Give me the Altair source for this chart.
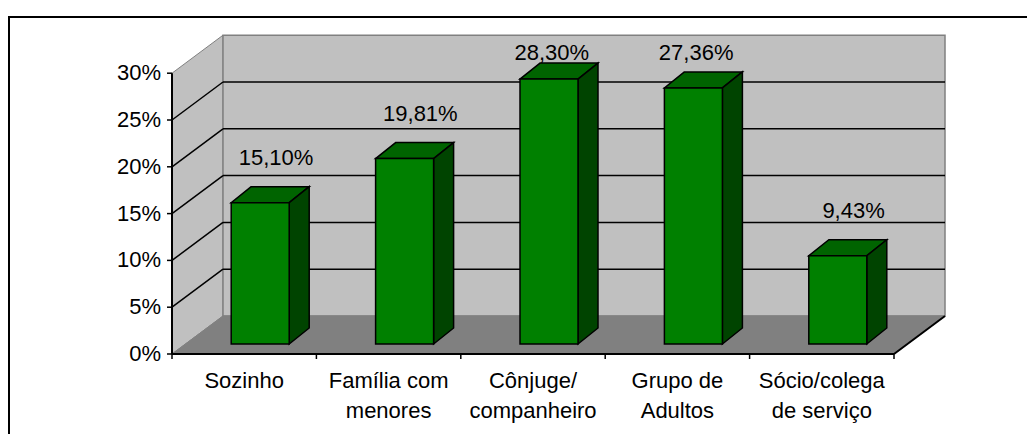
import altair as alt
import pandas as pd

# ---- data ----
categories = ["Sozinho", "Família com\nmenores", "Cônjuge/\ncompanheiro",
              "Grupo de\nAdultos", "Sócio/colega\nde serviço"]
values = [15.10, 19.81, 28.30, 27.36, 9.43]
value_labels = ["15,10%", "19,81%", "28,30%", "27,36%", "9,43%"]
y_ticks = [0, 5, 10, 15, 20, 25, 30]
y_tick_labels = ["0%", "5%", "10%", "15%", "20%", "25%", "30%"]

# ---- geometry (oblique 3D projection in data units) ----
PX_X, PX_Y = 144.4, 9.36          # px per category unit / per percent
W, H = 1019, 426
N = len(categories)
YMAX = 30
DX, DY = 51 / PX_X, 38 / PX_Y     # wall depth
BW = 58 / PX_X                    # bar width
BSHIFT = 16 / PX_X                # bar front centre offset (depth)
BASE = 10 / PX_Y                  # bar base offset (depth)
BDX, BDY = 20 / PX_X, 16 / PX_Y   # bar depth
FONT = "Liberation Sans"
FS = 22

xs = alt.Scale(domain=[-164 / PX_X, (W - 164) / PX_X], nice=False, zero=False)
ys = alt.Scale(domain=[-80 / PX_Y, 346 / PX_Y], nice=False, zero=False)


def X(f):
    return alt.X(f, type="quantitative", scale=xs, axis=None)


def Y(f):
    return alt.Y(f, type="quantitative", scale=ys, axis=None)


# walls
left_wall = pd.DataFrame({"x": [0, DX], "lo": [0, DY], "hi": [YMAX, YMAX + DY]})
back_wall = pd.DataFrame({"x": [DX], "x2": [N + DX], "y": [DY], "y2": [YMAX + DY]})
floor = pd.DataFrame({"y": [0, DY], "x": [0, DX], "x2": [N, N + DX]})

inner = [t for t in y_ticks if 0 < t < YMAX]
grid_back = pd.DataFrame({"y": [t + DY for t in inner], "x": DX, "x2": N + DX})
grid_left = pd.DataFrame({"y": inner, "y2": [t + DY for t in inner], "x": 0.0, "x2": DX})

ticks_df = pd.DataFrame({"y": y_ticks, "label": y_tick_labels, "x": -5 / PX_X, "x2": 0.0, "x0": 0.0})
xticks_df = pd.DataFrame({"x": list(range(N + 1)), "y": 0.0, "y2": -5 / PX_Y})

bars = pd.DataFrame({"i": range(N), "cat": categories, "v": values, "label": value_labels})
bars["xc"] = bars["i"] + 0.5 + BSHIFT
bars["xl"] = bars["xc"] - BW / 2
bars["xr"] = bars["xc"] + BW / 2
bars["y0"] = BASE
bars["y1"] = BASE + bars["v"]
raw = bars["v"] + 5.85
bars["ly"] = raw.clip(upper=32.16)
bars["lx"] = bars["i"] + 0.5 + pd.Series([0.22 if r < 32.16 else 0.13 for r in raw])
bars["cx"] = bars["i"] + 0.5
bars["zero"] = 0.0

side_rows, top_rows = [], []
for _, r in bars.iterrows():
    side_rows.append({"cat": r["cat"], "x": r["xr"], "lo": BASE, "hi": r["y1"]})
    side_rows.append({"cat": r["cat"], "x": r["xr"] + BDX, "lo": BASE + BDY, "hi": r["y1"] + BDY})
    top_rows.append({"cat": r["cat"], "y": r["y1"], "x": r["xl"], "x2": r["xr"]})
    top_rows.append({"cat": r["cat"], "y": r["y1"] + BDY, "x": r["xl"] + BDX, "x2": r["xr"] + BDX})
side = pd.DataFrame(side_rows)
top = pd.DataFrame(top_rows)

edges = pd.DataFrame({
    "x": [N, 0, 0], "x2": [N + DX, N, 0], "y": [0, 0, 0], "y2": [DY, 0, YMAX],
    "w": ["a", "b", "c"],
})

layers = []
layers.append(alt.Chart(left_wall).mark_area(fill="#C0C0C0", stroke="#808080", strokeWidth=1)
              .encode(x=X("x"), y=Y("lo"), y2="hi"))
layers.append(alt.Chart(back_wall).mark_rect(fill="#C0C0C0", stroke="#808080", strokeWidth=1.5)
              .encode(x=X("x"), x2="x2", y=Y("y"), y2="y2"))
layers.append(alt.Chart(floor).mark_area(orient="horizontal", fill="#808080", stroke="#808080", strokeWidth=1)
              .encode(y=Y("y"), x=X("x"), x2="x2"))
layers.append(alt.Chart(grid_back).mark_rule(color="black", strokeWidth=1.5)
              .encode(y=Y("y"), x=X("x"), x2="x2"))
layers.append(alt.Chart(grid_left).mark_rule(color="black", strokeWidth=1.5)
              .encode(x=X("x"), x2="x2", y=Y("y"), y2="y2"))
# floor front-right edge, x axis line, y axis line
layers.append(alt.Chart(edges).mark_rule(color="black", strokeWidth=2)
              .encode(x=X("x"), x2="x2", y=Y("y"), y2="y2"))
# y ticks + labels
layers.append(alt.Chart(ticks_df).mark_rule(color="black", strokeWidth=1.5)
              .encode(y=Y("y"), x=X("x"), x2="x2"))
layers.append(alt.Chart(ticks_df).mark_text(align="right", baseline="middle", dx=-11,
                                            font=FONT, fontSize=FS, color="black")
              .encode(y=Y("y"), x=X("x0"), text="label"))
# x ticks
layers.append(alt.Chart(xticks_df).mark_rule(color="black", strokeWidth=1.5)
              .encode(x=X("x"), y=Y("y"), y2="y2"))
# x labels
layers.append(alt.Chart(bars).mark_text(align="center", baseline="alphabetic", dy=34, lineBreak="\n",
                                        lineHeight=30, font=FONT, fontSize=FS, color="black")
              .encode(x=X("cx"), y=Y("zero"), text="cat"))
# bars
layers.append(alt.Chart(top).mark_area(orient="horizontal", fill="#006400", stroke="black", strokeWidth=1.5)
              .encode(y=Y("y"), x=X("x"), x2="x2", detail="cat:N"))
layers.append(alt.Chart(side).mark_area(fill="#004400", stroke="black", strokeWidth=1.5)
              .encode(x=X("x"), y=Y("lo"), y2="hi", detail="cat:N"))
layers.append(alt.Chart(bars).mark_rect(fill="#008000", stroke="black", strokeWidth=1.5)
              .encode(x=X("xl"), x2="xr", y=Y("y0"), y2="y1"))
# value labels
layers.append(alt.Chart(bars).mark_text(align="center", baseline="middle",
                                        font=FONT, fontSize=FS, color="black")
              .encode(x=X("lx"), y=Y("ly"), text="label"))
# outer frame (top and left edges)
frame = pd.DataFrame({"a": [0]})
layers.append(alt.Chart(frame).mark_rule(color="black", strokeWidth=2)
              .encode(x=alt.value(0), x2=alt.value(W), y=alt.value(9)))
layers.append(alt.Chart(frame).mark_rule(color="black", strokeWidth=2)
              .encode(x=alt.value(1), y=alt.value(8), y2=alt.value(H)))

chart = alt.layer(*layers).properties(
    width=W, height=H, padding=0, autosize=alt.AutoSizeParams(type="none")
).configure_view(stroke=None)

chart.save("out.html", embed_options={"renderer": "svg", "actions": False})
